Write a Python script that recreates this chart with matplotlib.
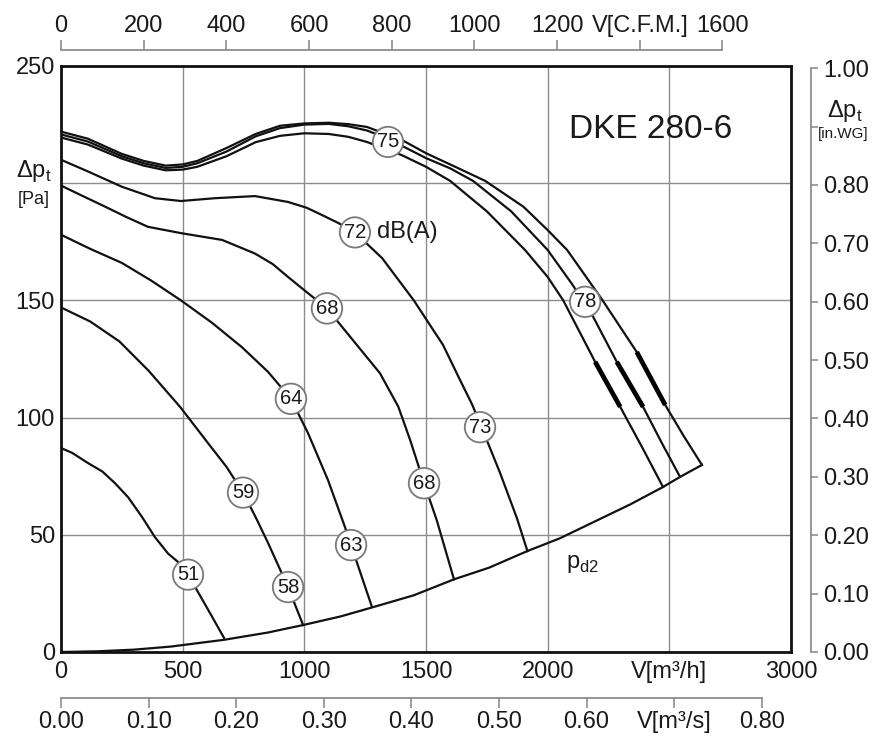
import matplotlib
matplotlib.use('Agg')
import matplotlib.pyplot as plt

plt.rcParams['font.family'] = ['Liberation Sans', 'DejaVu Sans']
plt.rcParams['mathtext.fontset'] = 'custom'
plt.rcParams['mathtext.rm'] = 'Liberation Sans'

# fan curves, V in m3/h, dp_t in Pa
v_a = [0, 45, 111, 170, 222, 276, 333, 386, 440, 480, 522, 580, 625, 670]
p_a = [87, 85, 80.6, 77, 72, 66, 57.6, 49, 42, 38.5, 33, 22.5, 14.3, 6]

v_b = [0, 120, 240, 360, 490, 605, 680, 748, 800, 851, 933, 995]
p_b = [147, 141, 132.5, 120, 104.5, 89, 79, 68, 57.5, 46.5, 27.7, 11.5]

v_c = [0, 120, 250, 370, 493, 620, 744, 851, 945, 1015, 1097, 1167, 1192, 1278]
p_c = [178, 172, 166, 158.5, 150, 140.5, 130, 119.5, 108, 93.4, 73.4, 53.3, 45.6, 19.2]

v_d = [0, 90, 181, 270, 357, 493, 662, 797, 870, 933, 1010, 1093, 1200, 1311, 1386, 1435,
       1492, 1544, 1615]
p_d = [199, 194.5, 190, 185.5, 181.4, 178.7, 175.8, 170, 165.5, 160, 153.5, 146.6, 133, 118.9, 104.7, 90.4,
       72, 56.3, 31]

v_e = [0, 111, 250, 386, 493, 633, 797, 933, 1010, 1073, 1140, 1208, 1320, 1450, 1570, 1640,
       1690, 1722, 1804, 1874, 1917]
p_e = [210, 205, 198.5, 193.6, 192.4, 193.6, 194.5, 192, 189.5, 186.4, 183, 179, 168, 150, 131, 116,
       105.5, 97.5, 76.5, 57, 43]

v_f = [0, 110, 250, 340, 430, 500, 560, 680, 800, 900, 1000, 1100, 1180, 1257, 1400, 1500,
       1599, 1750, 1907, 2000, 2064, 2195, 2298, 2390, 2474]
p_f = [219.5, 216.5, 210.5, 207.5, 205.5, 205.8, 207, 211.5, 217.5, 220.2, 221.3, 221, 219.8, 217.6, 212, 207,
       201, 188, 171.5, 160, 150, 123.8, 104.6, 87, 70.4]

v_g = [0, 110, 250, 340, 430, 500, 560, 680, 800, 900, 1000, 1100, 1180, 1257, 1344, 1500,
       1600, 1693, 1850, 2000, 2100, 2187, 2284, 2392, 2470, 2544]
p_g = [220.8, 217.8, 211.5, 208.5, 206.5, 207, 208.5, 213.5, 220, 223.5, 225, 225.3, 224.3, 222.5, 219, 210.7,
       206.3, 201, 188, 171.5, 157, 143, 123.8, 104.6, 89, 74.7]

v_h = [0, 110, 250, 340, 430, 500, 560, 680, 800, 900, 1000, 1100, 1180, 1257, 1400, 1500,
       1620, 1743, 1900, 2000, 2080, 2222, 2366, 2483, 2560, 2634]
p_h = [222, 219, 212.5, 209.5, 207.5, 208, 209.5, 215, 221, 224.5, 225.5, 225.8, 225.2, 224, 218.5, 212.8,
       207, 201, 190, 180, 171.5, 150.6, 128, 105.4, 92, 79.8]

# bold pieces on the three top curves
thick_v = [[2195, 2298], [2284, 2392], [2366, 2483]]
thick_p = [[123.8, 104.6], [123.8, 104.6], [128, 105.4]]

# dynamic pressure p_d2
v_pd = [0, 150, 300, 450, 670, 850, 995, 1150, 1278, 1450, 1615, 1760, 1915, 2050, 2200,
        2340, 2474, 2544, 2634]
p_pd = [0, 0.3, 1, 2.3, 5.2, 8.3, 11.5, 15.2, 19, 24.2, 31, 36, 43, 48.5, 56,
        63, 70.4, 74.7, 79.8]

# sound level markers dB(A)
lvl_v = [522, 748, 933, 945, 1192, 1093, 1492, 1208, 1722, 1344, 2154]
lvl_p = [33, 68, 27.7, 108, 45.6, 146.6, 72, 179, 95.9, 217.6, 149.4]
lvl_txt = ['51', '59', '58', '64', '63', '68', '68', '72', '73', '75', '78']

x_ticks = [0, 500, 1000, 1500, 2000, 2500, 3000]
x_labels = ['0', '500', '1000', '1500', '2000', 'V[m³/h]', '3000']
y_ticks = [0, 50, 100, 150, 200, 250]
y_labels = ['0', '50', '100', '150', '', '250']
cfm_ticks = [0, 200, 400, 600, 800, 1000, 1200, 1400, 1600]
cfm_labels = ['0', '200', '400', '600', '800', '1000', '1200', 'V[C.F.M.]', '1600']
ms_ticks = [0, 0.1, 0.2, 0.3, 0.4, 0.5, 0.6, 0.7, 0.8]
ms_labels = ['0.00', '0.10', '0.20', '0.30', '0.40', '0.50', '0.60', 'V[m³/s]', '0.80']
wg_ticks = [0, 0.1, 0.2, 0.3, 0.4, 0.5, 0.6, 0.7, 0.8, 0.9, 1.0]
wg_labels = ['0.00', '0.10', '0.20', '0.30', '0.40', '0.50', '0.60', '0.70', '0.80', '', '1.00']

gray = '#858585'
txt = '#1a1a1a'

fig = plt.figure(figsize=(8.75, 7.38), dpi=100)
ax = fig.add_axes([61 / 875, 86 / 738, 730 / 875, 586 / 738])
ax.set_xlim(0, 3000)
ax.set_ylim(0, 250)

ax.set_xticks(x_ticks, x_labels)
ax.set_yticks(y_ticks, y_labels)
ax.tick_params(length=0, labelsize=17, labelcolor=txt)
ax.tick_params(axis='x', pad=6.5)
ax.tick_params(axis='y', pad=4.3)
ax.grid(True, color='#8c8c8c', lw=1.0)
ax.set_axisbelow(True)
for s in ax.spines.values():
    s.set_linewidth(2.0)
    s.set_color('#111111')

for v, p in [(v_a, p_a), (v_b, p_b), (v_c, p_c), (v_d, p_d), (v_e, p_e),
             (v_f, p_f), (v_g, p_g), (v_h, p_h), (v_pd, p_pd)]:
    ax.plot(v, p, color='#111111', lw=1.6, solid_joinstyle='round', zorder=3)

for v, p in zip(thick_v, thick_p):
    ax.plot(v, p, color='black', lw=3.4, solid_capstyle='butt', zorder=3)

for x, y, t in zip(lvl_v, lvl_p, lvl_txt):
    ax.text(x, y, t, ha='center', va='center', fontsize=14.5, color=txt, zorder=5,
            bbox=dict(boxstyle='circle,pad=0.2', fc='white', ec='#7a7a7a', lw=1.3))

ax.text(1299, 179, 'dB(A)', fontsize=17, ha='left', va='center', color=txt, zorder=4)
ax.text(2088, 222.7, 'DKE 280-6', fontsize=24, ha='left', va='center', color=txt)
ax.text(2077, 36, r'p$_\mathregular{d2}$', fontsize=17, ha='left', va='baseline', color=txt)

# C.F.M. scale on top
top = ax.secondary_xaxis('top', functions=(lambda v: v / 1.699, lambda c: c * 1.699))
top.spines['top'].set_position(('outward', 11.5))
top.spines['top'].set_bounds(0, 1600)
top.spines['top'].set_color(gray)
top.spines['top'].set_linewidth(1.2)
top.set_xticks(cfm_ticks, cfm_labels)
top.tick_params(direction='out', length=7.2, width=1.1, color=gray, pad=2.5,
                labelsize=17, labelcolor=txt)

# m3/s scale at the bottom
bot = ax.secondary_xaxis('bottom', functions=(lambda v: v / 3600, lambda s: s * 3600))
bot.spines['bottom'].set_position(('outward', 33))
bot.spines['bottom'].set_bounds(0, 0.8)
bot.spines['bottom'].set_color(gray)
bot.spines['bottom'].set_linewidth(1.2)
bot.set_xticks(ms_ticks, ms_labels)
bot.tick_params(direction='out', length=7.2, width=1.1, color=gray, pad=2,
                labelsize=17, labelcolor=txt)

# in.WG scale on the right
rgt = ax.secondary_yaxis('right', functions=(lambda p: p / 249.09, lambda w: w * 249.09))
rgt.spines['right'].set_position(('outward', 14.4))
rgt.spines['right'].set_bounds(0, 1.0)
rgt.spines['right'].set_color(gray)
rgt.spines['right'].set_linewidth(1.2)
rgt.set_yticks(wg_ticks, wg_labels)
rgt.tick_params(direction='out', length=5, width=1.1, color=gray, pad=3.6,
                labelsize=17, labelcolor=txt)

# axis titles
fig.text(34 / 875, 1 - 171 / 738, r'Δp$_\mathregular{t}$', fontsize=17, ha='center', va='center', color=txt)
fig.text(34 / 875, 1 - 200 / 738, '[Pa]', fontsize=13, ha='center', va='center', color=txt)
fig.text(845 / 875, 1 - 111 / 738, r'Δp$_\mathregular{t}$', fontsize=17, ha='center', va='center', color=txt)
fig.text(843 / 875, 1 - 134 / 738, '[in.WG]', fontsize=11, ha='center', va='center', color=txt)

fig.savefig('out.png', dpi=100)
